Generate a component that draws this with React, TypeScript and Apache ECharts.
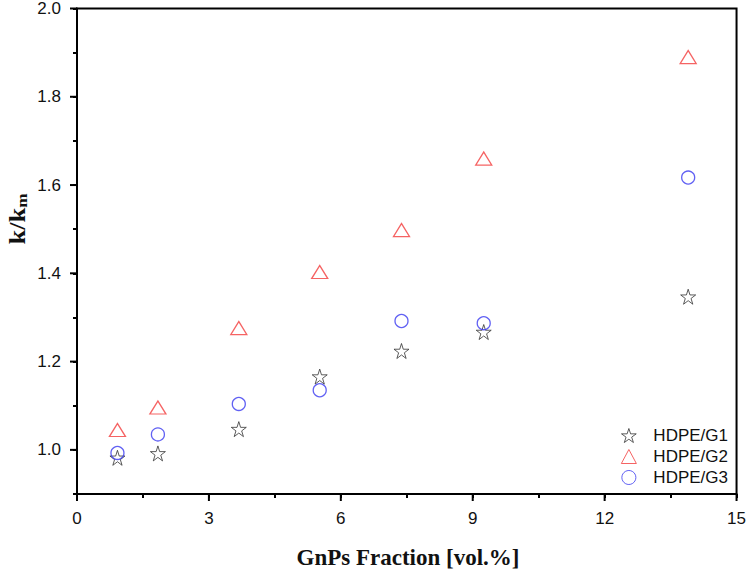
import React, { useEffect, useRef } from "react";
import * as echarts from "echarts";

const fractions = [0.92, 1.84, 3.68, 5.52, 7.38, 9.25, 13.9];
const g1Values = [0.982, 0.992, 1.047, 1.166, 1.224, 1.267, 1.347];
const g2Values = [1.045, 1.096, 1.276, 1.403, 1.498, 1.66, 1.89];
const g3Values = [0.993, 1.035, 1.104, 1.135, 1.292, 1.287, 1.617];
const seriesNames = ["HDPE/G1", "HDPE/G2", "HDPE/G3"];
const xRange = [0, 15];
const xMinorStep = 1.5;
const xMajorTicks = [0, 3, 6, 9, 12, 15];
const yRange = [0.9, 2.0];
const yMinorStep = 0.1;
const yMajorTicks = [1.0, 1.2, 1.4, 1.6, 1.8, 2.0];

const starPath =
  "path://M50,2 L61.2,36.6 L97.6,36.6 L68.2,58 L79.4,92.6 L50,71.2 L20.6,92.6 L31.8,58 L2.4,36.6 L38.8,36.6 Z";

const pair = (ys: number[]) => fractions.map((x, i) => [x, ys[i]]);

const W = 749;
const H = 569;

export default function App() {
  const ref = useRef<HTMLDivElement>(null);
  useEffect(() => {
    if (!ref.current) return;
    const chart = echarts.init(ref.current, null, { renderer: "svg" });
    const labelFont = {
      fontFamily: "Liberation Sans, Arial, sans-serif",
      fontSize: 17,
      color: "#111",
    };
    const tickStyle = { color: "#000", width: 2 };

    const titleGraphics = [
      {
        type: "text",
        x: 408,
        y: 557,
        style: {
          text: "GnPs Fraction [vol.%]",
          font: "bold 23px 'Liberation Serif', 'Times New Roman', serif",
          fill: "#111",
          align: "center",
          verticalAlign: "middle",
        },
      },
      {
        type: "text",
        x: 17,
        y: 219,
        rotation: Math.PI / 2,
        scaleX: 1.15,
        style: {
          text: "{a|k/k}{b|m}",
          align: "center",
          verticalAlign: "middle",
          rich: {
            a: {
              fontFamily: "'Liberation Serif', 'Times New Roman', serif",
              fontWeight: "bold",
              fontSize: 23,
              fill: "#111",
            },
            b: {
              fontFamily: "'Liberation Serif', 'Times New Roman', serif",
              fontWeight: "bold",
              fontSize: 15,
              fill: "#111",
              padding: [10, 0, 0, 0],
            },
          },
        },
      },
    ];

    chart.setOption({
      animation: false,
      backgroundColor: "#fff",
      grid: {
        left: 77,
        right: 10,
        top: 8,
        bottom: 75,
        show: true,
        borderColor: "#000",
        borderWidth: 2,
        containLabel: false,
      },
      xAxis: {
        type: "value",
        min: xRange[0],
        max: xRange[1],
        interval: xMinorStep,
        axisLine: { show: true, onZero: false, lineStyle: { color: "#000", width: 2 } },
        splitLine: { show: false },
        axisTick: { show: true, length: 4, lineStyle: tickStyle },
        axisLabel: {
          ...labelFont,
          customValues: xMajorTicks,
          margin: 16,
          hideOverlap: false,
        },
      },
      yAxis: {
        type: "value",
        min: yRange[0],
        max: yRange[1],
        interval: yMinorStep,
        axisLine: { show: true, onZero: false, lineStyle: { color: "#000", width: 2 } },
        splitLine: { show: false },
        axisTick: { show: true, length: 4, lineStyle: tickStyle },
        axisLabel: {
          ...labelFont,
          customValues: yMajorTicks,
          margin: 16,
          hideOverlap: false,
          verticalAlign: "middle",
          formatter: (v: number) => v.toFixed(1),
        },
      },
      legend: {
        orient: "vertical",
        right: 16,
        bottom: 78,
        itemWidth: 15,
        itemHeight: 14,
        itemGap: 4,
        itemStyle: { borderWidth: 1 },
        textStyle: { ...labelFont, padding: [0, 0, 0, 12] },
        data: seriesNames,
      },
      series: [
        {
          name: seriesNames[0],
          type: "scatter",
          data: pair(g1Values),
          symbol: starPath,
          symbolSize: 15,
          itemStyle: { color: "rgba(0,0,0,0)", borderColor: "#333", borderWidth: 1 },
          z: 3,
        },
        {
          name: seriesNames[1],
          type: "scatter",
          data: pair(g2Values),
          symbol: "triangle",
          symbolSize: [16, 13],
          itemStyle: { color: "rgba(0,0,0,0)", borderColor: "#f23c3c", borderWidth: 1.3 },
          z: 4,
        },
        {
          name: seriesNames[2],
          type: "scatter",
          data: pair(g3Values),
          symbol: "circle",
          symbolSize: 13,
          itemStyle: { color: "rgba(0,0,0,0)", borderColor: "#3a3af0", borderWidth: 1.3 },
          z: 5,
        },
      ],
      graphic: titleGraphics,
    });

    // Major ticks, placed through the chart's own scales.
    const tickGraphics: any[] = [];
    xMajorTicks.forEach((v) => {
      const p = chart.convertToPixel({ gridIndex: 0 }, [v, yRange[0]]) as number[];
      tickGraphics.push({
        type: "rect",
        shape: { x: p[0] - 1, y: p[1], width: 2, height: 7 },
        style: { fill: "#000" },
        z: 100,
      });
    });
    yMajorTicks.forEach((v) => {
      const p = chart.convertToPixel({ gridIndex: 0 }, [xRange[0], v]) as number[];
      tickGraphics.push({
        type: "rect",
        shape: { x: p[0] - 7, y: p[1] - 1, width: 7, height: 2 },
        style: { fill: "#000" },
        z: 100,
      });
    });
    chart.setOption({ graphic: [...titleGraphics, ...tickGraphics] });

    return () => chart.dispose();
  }, []);
  return (
    <div
      ref={ref}
      style={{ position: "fixed", left: 0, top: 0, width: W, height: H }}
    />
  );
}
